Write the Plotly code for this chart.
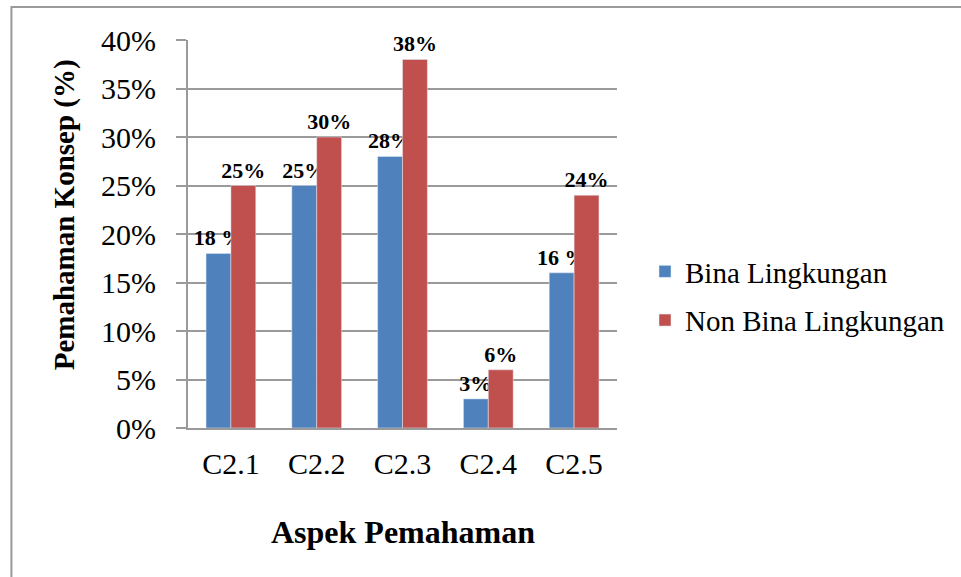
import plotly.graph_objects as go

categories = ["C2.1", "C2.2", "C2.3", "C2.4", "C2.5"]
bina = [0.18, 0.25, 0.28, 0.03, 0.16]
non_bina = [0.25, 0.30, 0.38, 0.06, 0.24]
bina_labels = ["18 %", "25%", "28%", "3%", "16 %"]
non_bina_labels = ["25%", "30%", "38%", "6%", "24%"]
y_ticks = [0, 0.05, 0.10, 0.15, 0.20, 0.25, 0.30, 0.35, 0.40]
y_tick_text = ["0%", "5%", "10%", "15%", "20%", "25%", "30%", "35%", "40%"]

FONT = "Liberation Serif, Times New Roman, serif"
L, R, T, B = 188, 343, 40, 149
W, H = 961, 577
PW, PH = W - L - R, H - T - B

def px_x(x):
    return (x - L) / PW

def px_y(y):
    return (H - B - y) / PH

fig = go.Figure()
fig.add_trace(go.Bar(
    x=categories, y=bina, name="Bina Lingkungan", marker_color="#4F81BD",
    text=bina_labels, textposition="outside", constraintext="none", cliponaxis=False,
    textfont=dict(family=FONT, size=22, color="black", weight="bold"),
    legendgroup="a",
))
fig.add_trace(go.Bar(
    x=categories, y=non_bina, name="Non Bina Lingkungan", marker_color="#C0504D",
    text=non_bina_labels, textposition="outside", constraintext="none", cliponaxis=False,
    textfont=dict(family=FONT, size=22, color="black", weight="bold"),
    legendgroup="b",
))

fig.update_layout(
    width=W, height=H,
    margin=dict(l=L, r=R, t=T, b=B),
    paper_bgcolor="white", plot_bgcolor="white",
    barmode="group", bargap=0.42, bargroupgap=0,
    font=dict(family=FONT, color="black"),
    showlegend=True,
    legend=dict(
        x=px_x(645), y=px_y(296), xanchor="left", yanchor="middle",
        font=dict(family=FONT, size=29, color="black"),
        traceorder="grouped", tracegroupgap=8,
        bgcolor="rgba(0,0,0,0)",
    ),
    xaxis=dict(
        showline=True, linecolor="#9a9a9a", linewidth=2,
        ticks="", tickfont=dict(family=FONT, size=30, color="black"),
        ticklabelstandoff=8,
        showgrid=False,
    ),
    yaxis=dict(
        range=[0, 0.40], tickvals=y_ticks, ticktext=y_tick_text,
        showline=True, linecolor="#9a9a9a", linewidth=2,
        ticks="outside", ticklen=10, tickcolor="#9a9a9a", tickwidth=2,
        tickfont=dict(family=FONT, size=30, color="black"),
        ticklabelstandoff=14,
        showgrid=True, gridcolor="#9a9a9a", gridwidth=2,
        zeroline=False,
    ),
    annotations=[
        dict(text="<b>Aspek Pemahaman</b>", x=0.5, y=px_y(532), xref="paper", yref="paper",
             showarrow=False, font=dict(family=FONT, size=32, color="black"),
             xanchor="center", yanchor="middle"),
        dict(text="<b>Pemahaman Konsep (%)</b>", x=px_x(65), y=px_y(215), xref="paper", yref="paper",
             showarrow=False, textangle=-90, font=dict(family=FONT, size=29, color="black"),
             xanchor="center", yanchor="middle"),
    ],
    shapes=[
        dict(type="rect", xref="paper", yref="paper",
             x0=px_x(11), y0=px_y(600), x1=px_x(990), y1=px_y(7),
             line=dict(color="#9a9a9a", width=2), fillcolor="rgba(0,0,0,0)", layer="below"),
    ],
)

fig.write_html(
    "out.html",
    config={"displayModeBar": False},
    post_script="document.body.style.margin='0';document.body.style.overflow='hidden';",
)
